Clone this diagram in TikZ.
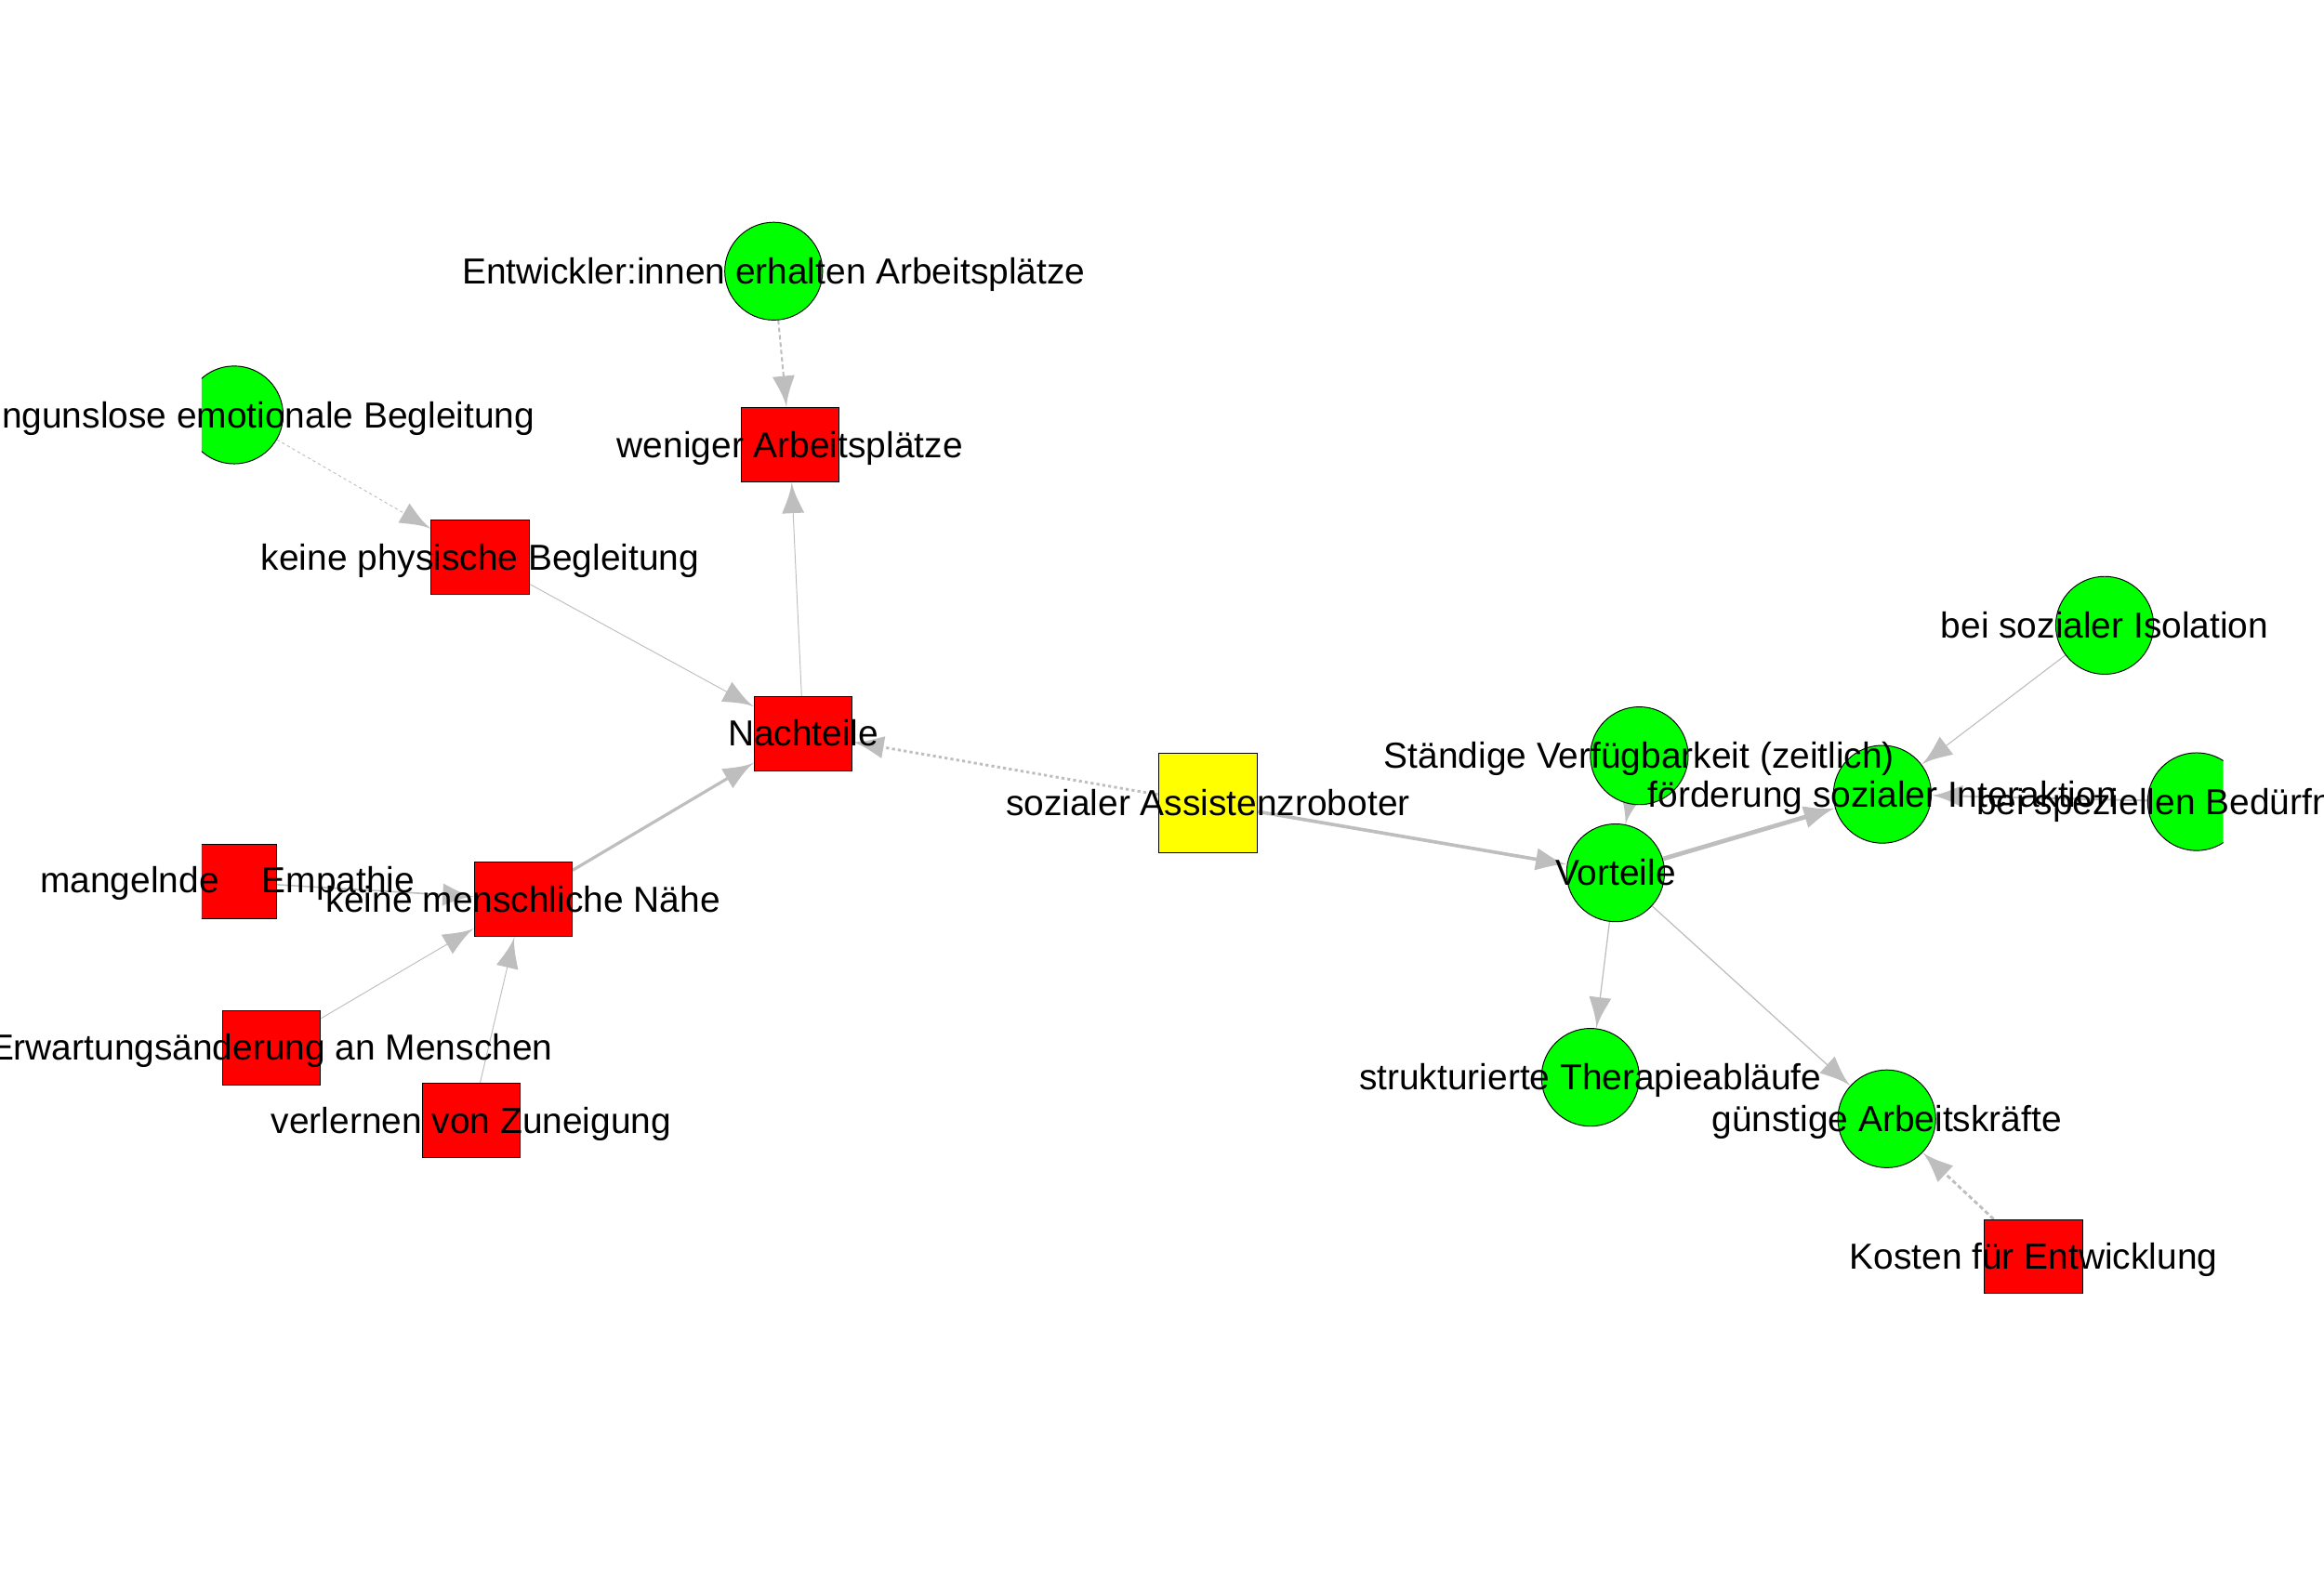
\documentclass[tikz,border=0pt]{standalone}
\usepackage{fontspec}
\setmainfont{Liberation Sans}
\usetikzlibrary{arrows.meta}

% edges sit below the vertices
\pgfdeclarelayer{edges}
\pgfsetlayers{edges,main}

% arrow head with concave flanks
\pgfdeclarearrow{
  name = igr,
  parameters = {\the\pgfarrowlength,\the\pgfarrowwidth},
  setup code = {%
    \pgfarrowssettipend{0pt}%
    \pgfarrowssetbackend{-\pgfarrowlength}%
    \pgfarrowssetlineend{-0.7\pgfarrowlength}%
    \pgfarrowssavethe\pgfarrowlength
    \pgfarrowssavethe\pgfarrowwidth
  },
  drawing code = {%
    \pgfpathmoveto{\pgfqpoint{0pt}{0pt}}%
    \pgfpathcurveto{\pgfqpoint{-0.35\pgfarrowlength}{0.07\pgfarrowwidth}}{\pgfqpoint{-0.65\pgfarrowlength}{0.28\pgfarrowwidth}}{\pgfqpoint{-\pgfarrowlength}{0.5\pgfarrowwidth}}%
    \pgfpathlineto{\pgfqpoint{-\pgfarrowlength}{-0.5\pgfarrowwidth}}%
    \pgfpathcurveto{\pgfqpoint{-0.65\pgfarrowlength}{-0.28\pgfarrowwidth}}{\pgfqpoint{-0.35\pgfarrowlength}{-0.07\pgfarrowwidth}}{\pgfqpoint{0pt}{0pt}}%
    \pgfpathclose
    \pgfusepathqfill
  },
  defaults = {length = 21pt, width = 15pt}
}

\definecolor{edgegray}{RGB}{190,190,190}
\definecolor{vred}{RGB}{255,0,0}
\definecolor{vgreen}{RGB}{0,255,0}
\definecolor{vyellow}{RGB}{255,255,0}

\begin{document}
\begin{tikzpicture}[x=1pt,y=-1pt,
  vbase/.style={draw=black,line width=0.6pt,inner sep=0pt},
  redbox/.style={vbase,rectangle,fill=vred,minimum width=66pt,minimum height=50pt},
  yellowbox/.style={vbase,rectangle,fill=vyellow,minimum width=67pt,minimum height=67pt},
  greenball/.style={vbase,circle,fill=vgreen,minimum size=66pt},
  lbl/.style={inner sep=0pt,text height=0.716em,text depth=0pt,yshift=-5pt,
    font=\fontsize{24.4pt}{29pt}\selectfont},
  link/.style={draw=edgegray,-{igr}},
  dashedlink/.style={link,dash pattern=on 3pt off 2pt},
  dottedlink/.style={link,dash pattern=on 2pt off 2pt},
]
\useasboundingbox (0,0) rectangle (1568,1066);
\clip (0,0) rectangle (1568,1066);

% vertices, clipped to the plotting region
\begin{scope}
  \clip (136,0) rectangle (1500,1066);
  \node[greenball] (ent)    at (522,183) {};
  \node[redbox]    (wen)    at (533,300) {};
  \node[greenball] (bed)    at (158,280) {};
  \node[redbox]    (phy)    at (324,376) {};
  \node[redbox]    (nach)   at (542,495) {};
  \node[redbox]    (mang)   at (153.5,595) {};
  \node[redbox]    (mensch) at (353,607) {};
  \node[redbox]    (erw)    at (183,707) {};
  \node[redbox]    (verl)   at (318,756) {};
  \node[yellowbox] (soz)    at (815,542) {};
  \node[greenball] (vort)   at (1090,589) {};
  \node[greenball] (staend) at (1106,510) {};
  \node[greenball] (foerd)  at (1270,536) {};
  \node[greenball] (isol)   at (1420,422) {};
  \node[greenball] (spez)   at (1482,541) {};
  \node[greenball] (struk)  at (1073,727) {};
  \node[greenball] (guen)   at (1273,755) {};
  \node[redbox]    (kost)   at (1372,848) {};
\end{scope}

% edges
\begin{pgfonlayer}{edges}
  \draw[dashedlink, line width=1.3pt] (ent) -- (wen);
  \draw[dottedlink, line width=0.6pt] (bed) -- (phy);
  \draw[link, line width=0.6pt] (phy) -- (nach);
  \draw[link, line width=0.6pt] (nach) -- (wen);
  \draw[link, line width=2pt] (mensch) -- (nach);
  \draw[dottedlink, line width=1.8pt] (soz) -- (nach);
  \draw[link, line width=2.3pt] (soz) -- (vort);
  \draw[link, line width=1.0pt] (mang) -- (mensch);
  \draw[link, line width=0.6pt] (erw) -- (mensch);
  \draw[link, line width=0.6pt] (verl) -- (mensch);
  \draw[link, line width=1.8pt] (staend) -- (vort);
  \draw[link, line width=3pt] (vort) -- (foerd);
  \draw[link, line width=0.7pt] (isol) -- (foerd);
  \draw[link, line width=1.3pt] (spez) -- (foerd);
  \draw[link, line width=0.8pt] (vort) -- (struk);
  \draw[link, line width=0.8pt] (vort) -- (guen);
  \draw[dashedlink, line width=1.8pt] (kost) -- (guen);
\end{pgfonlayer}

% labels on top
\node[lbl] (ent-l)    at (ent)    {Entwickler:innen erhalten Arbeitsplätze};
\node[lbl] (wen-l)    at (wen)    {weniger Arbeitsplätze};
\node[lbl] (bed-l)    at (bed)    {bedingunslose emotionale Begleitung};
\node[lbl] (phy-l)    at (phy)    {keine physische Begleitung};
\node[lbl] (nach-l)   at (nach)   {Nachteile};
\node[lbl, yshift=1pt] (mang-l) at (mang) {mangelnde\hspace{29pt}Empathie};
\node[lbl] (mensch-l) at (mensch) {keine menschliche Nähe};
\node[lbl] (erw-l)    at (erw)    {Erwartungsänderung an Menschen};
\node[lbl] (verl-l)   at (verl)   {verlernen von Zuneigung};
\node[lbl] (soz-l)    at (soz)    {sozialer Assistenzroboter};
\node[lbl] (vort-l)   at (vort)   {Vorteile};
\node[lbl] (staend-l) at (staend) {Ständige Verfügbarkeit (zeitlich)};
\node[lbl] (foerd-l)  at (foerd)  {förderung sozialer Interaktion};
\node[lbl] (isol-l)   at (isol)   {bei sozialer Isolation};
\node[lbl] (spez-l)   at (spez)   {bei speziellen Bedürfnissen};
\node[lbl] (struk-l)  at (struk)  {strukturierte Therapieabläufe};
\node[lbl] (guen-l)   at (guen)   {günstige Arbeitskräfte};
\node[lbl] (kost-l)   at (kost)   {Kosten für Entwicklung};
\end{tikzpicture}
\end{document}
